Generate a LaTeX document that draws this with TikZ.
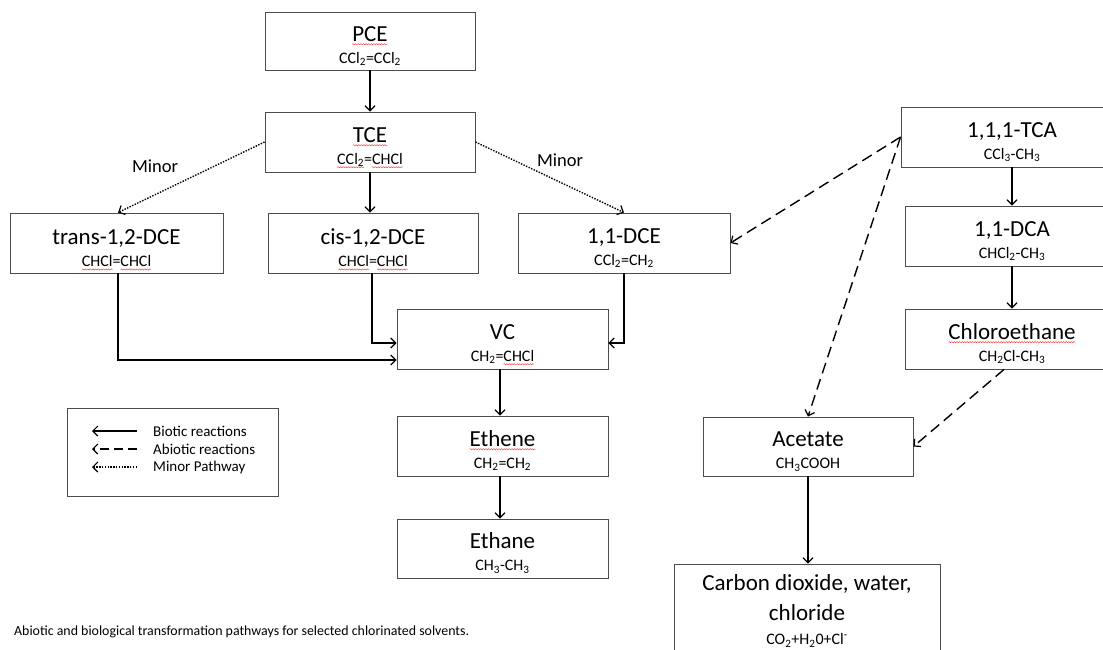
\documentclass[tikz,border=0pt]{standalone}
\usepackage{fontspec}
\setmainfont{Carlito}
\usetikzlibrary{arrows.meta,calc,decorations.pathmorphing}
\newlength\sqwd
\newcommand\sq[1]{\settowidth\sqwd{#1}\rlap{\tikz[overlay,baseline=0pt]\draw[red!75,line width=0.5pt,decorate,decoration={snake,amplitude=0.6pt,segment length=2.6pt}] (0pt,-3pt) -- (\sqwd,-3pt);}#1}
\newcommand\fs{\fontsize{16}{18}\selectfont}
\newcommand\sub[1]{\textsubscript{#1}}
\newcommand\st{\rule{0pt}{25pt}}
\begin{document}
\begin{tikzpicture}[x=1pt,y=-1pt,
  box/.style={draw=black!70,line width=0.9pt,inner sep=0pt,align=center,
    font=\fontsize{23}{26}\selectfont},
  arr/.style={line width=1.3pt,-{Straight Barb[length=5pt,width=10pt,line width=1.2pt]}},
  dsh/.style={arr,line width=1.4pt,dash pattern=on 11pt off 6pt},
  dot/.style={arr,dash pattern=on 1.4pt off 1.4pt,line width=1.4pt},
  lbl/.style={font=\fontsize{18.5}{20}\selectfont,inner sep=0pt},
  leg/.style={font=\fontsize{15}{17}\selectfont,anchor=west,inner sep=0pt}]
\clip (0,0) rectangle (1103,649);
\useasboundingbox (0,0) rectangle (1103,649);

\node[box,minimum width=210pt,minimum height=58pt] (PCE) at (370,41)
  {\st\sq{PCE}\\[-4pt]{\fs CCl\sub{2}=CCl\sub{2}}};
\node[box,minimum width=210pt,minimum height=60pt] (TCE) at (370,142)
  {\st\sq{TCE}\\[-4pt]{\fs \sq{CCl\sub{2}}=\sq{CHCl}}};
\node[box,minimum width=213pt,minimum height=60pt] (trans) at (116.5,243)
  {\st trans-1,2-DCE\\[-4pt]{\fs \sq{CHCl}=\sq{CHCl}}};
\node[box,minimum width=210pt,minimum height=60pt] (cis) at (373,243)
  {\st cis-1,2-DCE\\[-4pt]{\fs \sq{CHCl}=\sq{CHCl}}};
\node[box,minimum width=212pt,minimum height=60pt] (dce) at (624,243)
  {\st 1,1-DCE\\[-4pt]{\fs CCl\sub{2}=CH\sub{2}}};
\node[box,minimum width=211pt,minimum height=60pt] (VC) at (502.5,339)
  {\st VC\\[-4pt]{\fs CH\sub{2}=\sq{CHCl}}};
\node[box,minimum width=211pt,minimum height=60pt] (ethene) at (502.5,446)
  {\st\sq{Ethene}\\[-4pt]{\fs CH\sub{2}=CH\sub{2}}};
\node[box,minimum width=211pt,minimum height=59pt] (ethane) at (502.5,548.5)
  {\st Ethane\\[-4pt]{\fs CH\sub{3}-CH\sub{3}}};
\node[box,minimum width=222pt,minimum height=60pt] (tca) at (1012,137)
  {\st 1,1,1-TCA\\[-4pt]{\fs CCl\sub{3}-CH\sub{3}}};
\node[box,minimum width=214pt,minimum height=60pt] (dca) at (1012,236)
  {\st 1,1-DCA\\[-4pt]{\fs CHCl\sub{2}-CH\sub{3}}};
\node[box,minimum width=214pt,minimum height=60pt] (chl) at (1012,339)
  {\st\sq{Chloroethane}\\[-4pt]{\fs CH\sub{2}Cl-CH\sub{3}}};
\node[box,minimum width=210pt,minimum height=59pt] (ace) at (808,446.5)
  {\st Acetate\\[-4pt]{\fs CH\sub{3}COOH}};
\node[box,minimum width=266pt,minimum height=94pt] (co2) at (807,611)
  {Carbon dioxide, water,\\[4pt]chloride\\[-2pt]{\fs CO\sub{2}+H\sub{2}0+Cl\textsuperscript{-}}};

% connectors
\draw[arr] (PCE.south) -- (TCE.north);
\draw[arr] (TCE.south) -- (TCE.south |- cis.north);
\draw[dot] (TCE.west) -- ($(trans.north)+(1.5,0)$);
\draw[dot] (TCE.east) -- (dce.north);
\node[lbl] (m1) at (155,166) {Minor};
\node[lbl] (m2) at (560,160) {Minor};
\draw[arr] ($(trans.south)+(1.5,0)$) |- ($(VC.west)+(0,21)$);
\draw[arr] ($(cis.south)+(-1,0)$) |- ($(VC.west)+(0,4)$);
\draw[arr] (dce.south) |- ($(VC.east)+(0,4)$);
\draw[arr] ($(VC.south)+(-2.5,0)$) -- ($(ethene.north)+(-2.5,0)$);
\draw[arr] ($(ethene.south)+(-2.5,0)$) -- ($(ethane.north)+(-2.5,0)$);
\draw[arr] (tca.south) -- (dca.north);
\draw[arr] (dca.south) -- (chl.north);
\draw[dsh] (tca.west) -- (dce.east);
\draw[dsh] (tca.west) -- (ace.north);
\draw[dsh] ($(chl.south)+(-8,0)$) -- (ace.east);
\draw[arr] (ace.south) -- (ace.south |- co2.north);

% legend
\node[draw=black!70,line width=0.8pt,minimum width=211pt,minimum height=88pt,inner sep=0pt] (legend) at (172.5,452) {};
\coordinate (l1a) at (137,431); \coordinate (l1b) at (92,431);
\coordinate (l2a) at (137,449); \coordinate (l2b) at (92,449);
\coordinate (l3a) at (137,467); \coordinate (l3b) at (92,467);
\draw[arr] (l1a) -- (l1b);
\draw[arr,dash pattern=on 9pt off 5pt] (l2a) -- (l2b);
\draw[dot,line width=1.2pt] (l3a) -- (l3b);
\node[leg] (t1) at (153,431) {Biotic reactions};
\node[leg] (t2) at (153,449) {Abiotic reactions};
\node[leg] (t3) at (153,467) {Minor Pathway};

\node[anchor=west,inner sep=0pt,font=\fontsize{13.9}{15}\selectfont] (cap) at (14,632)
  {Abiotic and biological transformation pathways for selected chlorinated solvents.};
\end{tikzpicture}
\end{document}
